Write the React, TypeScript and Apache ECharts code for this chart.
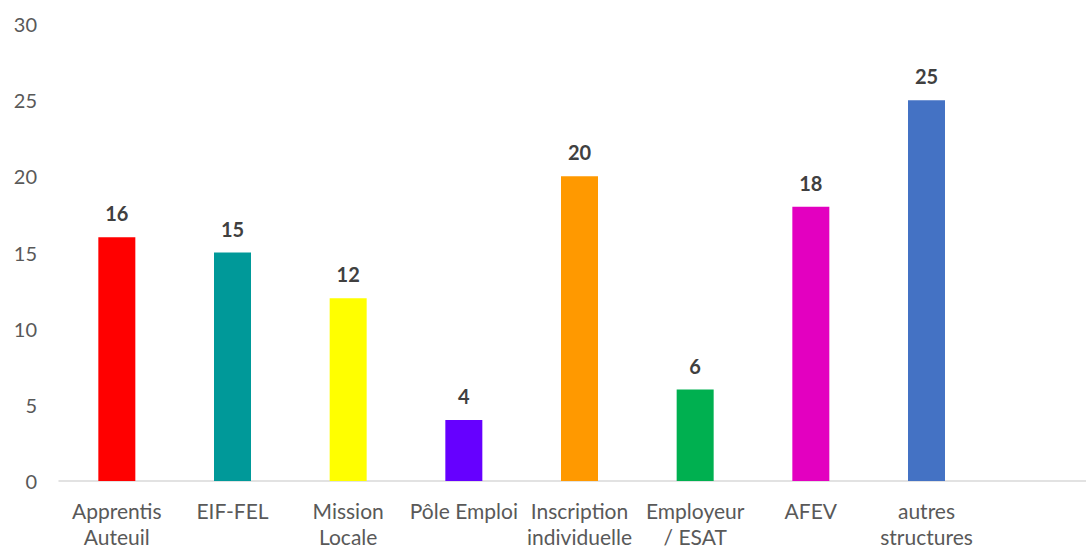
import React, { useEffect, useRef } from "react";
import * as echarts from "echarts";

const categories = [
  "Apprentis\nAuteuil",
  "EIF-FEL",
  "Mission\nLocale",
  "Pôle Emploi",
  "Inscription\nindividuelle",
  "Employeur\n/ ESAT",
  "AFEV",
  "autres\nstructures",
  "",
];
const values = [16, 15, 12, 4, 20, 6, 18, 25];
const colors = [
  "#FF0000",
  "#009999",
  "#FFFF00",
  "#6600FF",
  "#FF9900",
  "#00B050",
  "#E300C0",
  "#4472C4",
];

export default function App() {
  const ref = useRef<HTMLDivElement>(null);
  useEffect(() => {
    if (!ref.current) return;
    const chart = echarts.init(ref.current, null, { renderer: "svg" });
    chart.setOption({
      animation: false,
      backgroundColor: "#ffffff",
      textStyle: { fontFamily: "Lato" },
      grid: {
        left: 59,
        top: 24,
        width: 1041,
        bottom: 68,
        containLabel: false,
        outerBoundsMode: "none",
      },
      xAxis: {
        type: "category",
        data: categories,
        axisTick: { show: false },
        axisLine: { lineStyle: { color: "#D9D9D9", width: 1.5 } },
        axisLabel: {
          color: "#595959",
          fontSize: 21,
          fontFamily: "Lato",
          lineHeight: 26,
          margin: 16,
          interval: 0,
        },
      },
      yAxis: {
        type: "value",
        min: 0,
        max: 30,
        interval: 5,
        axisLine: { show: false },
        axisTick: { show: false },
        splitLine: { show: false },
        axisLabel: {
          color: "#595959",
          fontSize: 20,
          fontFamily: "Lato",
          margin: 22,
        },
      },
      series: [
        {
          type: "bar",
          barWidth: 37,
          data: values.map((v, i) => ({ value: v, itemStyle: { color: colors[i] } })),
          label: {
            show: true,
            position: "top",
            distance: 14,
            color: "#404040",
            fontSize: 20,
            fontWeight: "bold",
            fontFamily: "Lato",
          },
        },
      ],
    });
    return () => chart.dispose();
  }, []);
  return (
    <div
      ref={ref}
      style={{ position: "fixed", left: 0, top: 0, width: 1086, height: 549 }}
    />
  );
}
